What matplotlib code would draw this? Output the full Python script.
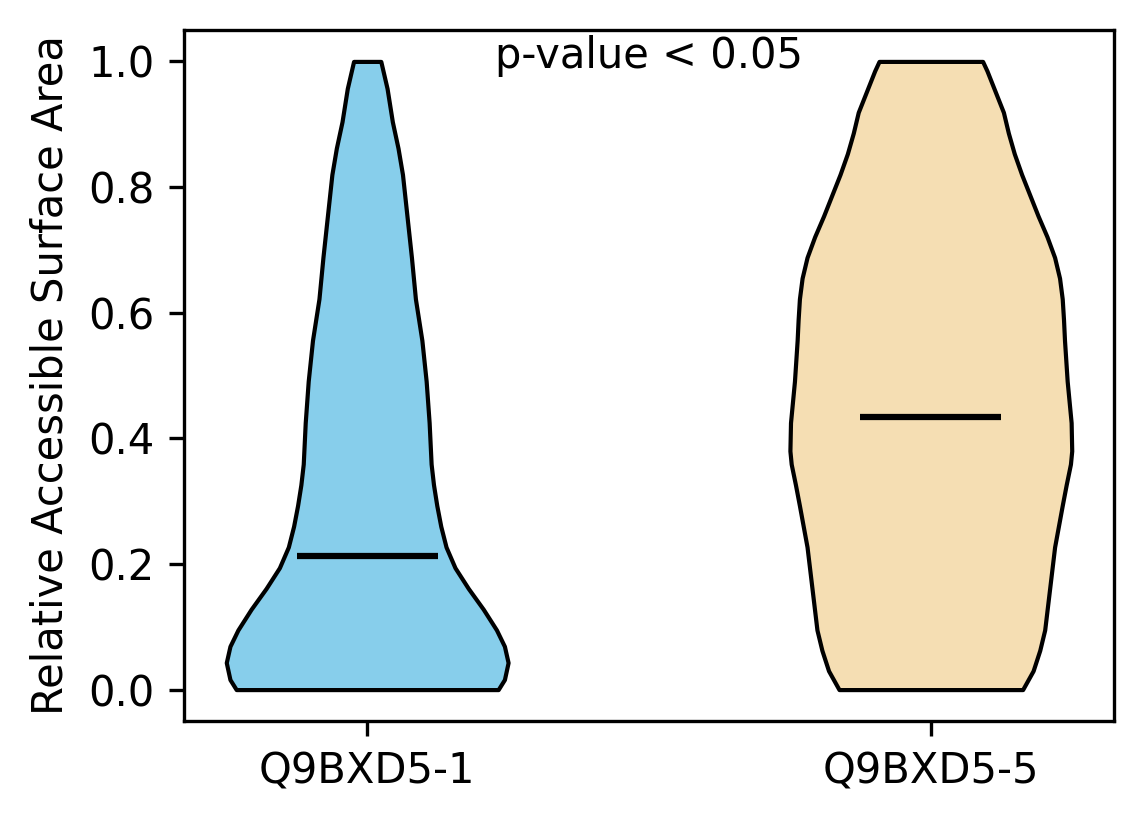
import matplotlib
matplotlib.use("Agg")
import matplotlib.pyplot as plt

labels = ["Q9BXD5-1", "Q9BXD5-5"]
colors = ["#87CEEB", "#F5DEB3"]

# density profile (y value, relative density)
y1 = [0.0, 0.016, 0.043, 0.069, 0.095, 0.128, 0.161, 0.194, 0.227, 0.26,
      0.293, 0.326, 0.359, 0.425, 0.491, 0.556, 0.622, 0.688, 0.754, 0.82,
      0.862, 0.904, 0.957, 1.0]
d1 = [131.7, 138, 141.7, 138, 130, 116.7, 101.7, 88.3, 79.3, 74,
      70, 66.7, 64.3, 62.3, 59.3, 55, 48.5, 44.5, 40, 35.5,
      31, 25.3, 20, 13.7]
med1 = 0.213

y2 = [0.0, 0.03, 0.0625, 0.095, 0.161, 0.227, 0.293, 0.326, 0.359, 0.38,
      0.425, 0.491, 0.556, 0.589, 0.622, 0.655, 0.688, 0.721, 0.754, 0.787,
      0.82, 0.853, 0.886, 0.919, 0.952, 0.985, 1.0]
d2 = [92.7, 103.3, 110, 115, 120, 125, 132.7, 136.7, 141, 142.3,
      141.7, 137.7, 135, 134, 132.7, 130, 125, 117.3, 108.3, 100,
      91.7, 84.3, 78.3, 73.3, 65, 56.7, 52.3]
med2 = 0.434

pvalue_text = "p-value < 0.05"

stats = []
for ys, ds, med in [(y1, d1, med1), (y2, d2, med2)]:
    stats.append(dict(coords=ys, vals=ds, mean=med, median=med,
                      min=min(ys), max=max(ys)))

fig = plt.figure(figsize=(1144 / 300, 824 / 300), dpi=300)
ax = fig.add_axes([184 / 1144, 103 / 824, 930 / 1144, 691 / 824])

parts = ax.violin(stats, positions=[1, 2], widths=0.5,
                  showmeans=False, showextrema=False, showmedians=True)
for body, c in zip(parts["bodies"], colors):
    body.set_facecolor(c)
    body.set_edgecolor("black")
    body.set_alpha(1)
    body.set_linewidth(1.0)
    body.set_joinstyle("round")
parts["cmedians"].set_color("black")
parts["cmedians"].set_linewidth(1.5)

ax.set_xticks([1, 2])
ax.set_xticklabels(labels, fontsize=10)
ax.tick_params(labelsize=10)
ax.set_ylabel("Relative Accessible Surface Area", fontsize=10)
ax.text(0.5, 0.962, pvalue_text, ha="center", va="center", fontsize=10,
        transform=ax.transAxes)

fig.savefig("out.png", dpi=300)
